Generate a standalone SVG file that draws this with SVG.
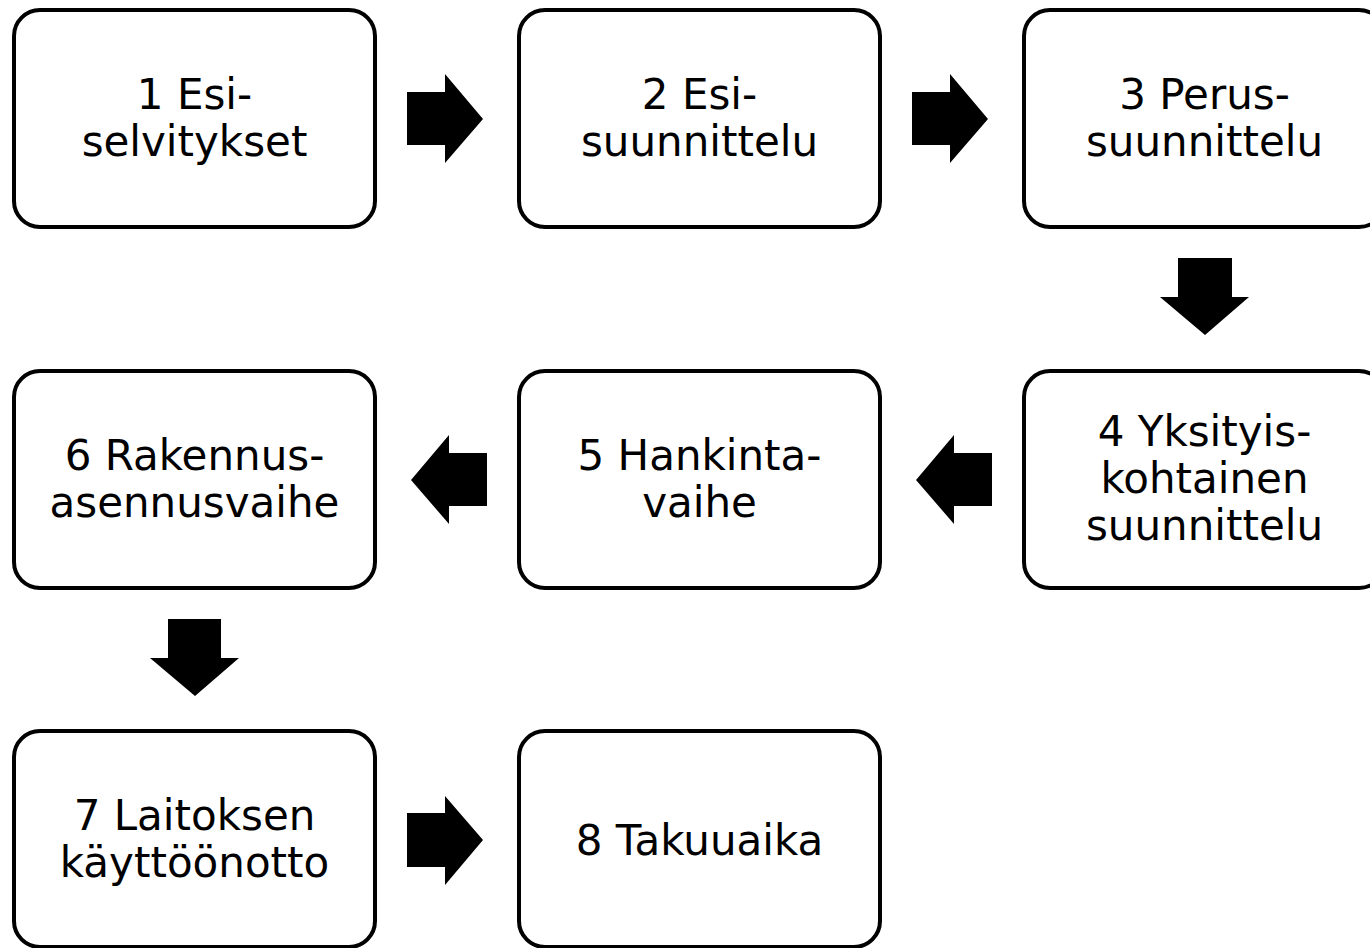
<svg xmlns="http://www.w3.org/2000/svg" width="1370" height="948" viewBox="0 0 1370 948">
<style>
.box{fill:#fff;stroke:#000;stroke-width:4}
.lbl{font-family:"DejaVu Sans","Verdana",sans-serif;font-size:42px;fill:#000;text-anchor:middle}
.arr{fill:#000;stroke:none}
</style>
<rect width="1370" height="948" fill="#fff"/>
<g id="connectors">
<polygon class="arr" points="407,92 445,92 445,74 483,119 445,163 445,145 407,145"/>
<polygon class="arr" points="912,92 950,92 950,74 988,119 950,163 950,145 912,145"/>
<polygon class="arr" points="1178,258 1232,258 1232,297 1249,297 1205,335 1160,297 1178,297"/>
<polygon class="arr" points="992,453 954,453 954,435 916,480 954,524 954,506 992,506"/>
<polygon class="arr" points="487,453 449,453 449,435 411,480 449,524 449,506 487,506"/>
<polygon class="arr" points="168,619 221,619 221,658 239,658 195,696 150,658 168,658"/>
<polygon class="arr" points="407,813 445,813 445,796 483,840 445,885 445,867 407,867"/>
</g>
<g id="n1"><rect class="box" x="14" y="10" width="361" height="217" rx="26"/><text class="lbl" x="194.5" y="109">1 Esi-</text><text class="lbl" x="194.5" y="156">selvitykset</text></g>
<g id="n2"><rect class="box" x="519" y="10" width="361" height="217" rx="26"/><text class="lbl" x="699.5" y="109">2 Esi-</text><text class="lbl" x="699.5" y="156">suunnittelu</text></g>
<g id="n3"><rect class="box" x="1024" y="10" width="361" height="217" rx="26"/><text class="lbl" x="1204.5" y="109">3 Perus-</text><text class="lbl" x="1204.5" y="156">suunnittelu</text></g>
<g id="n4"><rect class="box" x="1024" y="371" width="361" height="217" rx="26"/><text class="lbl" x="1204.5" y="446">4 Yksityis-</text><text class="lbl" x="1204.5" y="493">kohtainen</text><text class="lbl" x="1204.5" y="540">suunnittelu</text></g>
<g id="n5"><rect class="box" x="519" y="371" width="361" height="217" rx="26"/><text class="lbl" x="699.5" y="470">5 Hankinta-</text><text class="lbl" x="699.5" y="517">vaihe</text></g>
<g id="n6"><rect class="box" x="14" y="371" width="361" height="217" rx="26"/><text class="lbl" x="194.5" y="470">6 Rakennus-</text><text class="lbl" x="194.5" y="517">asennusvaihe</text></g>
<g id="n7"><rect class="box" x="14" y="731" width="361" height="216" rx="26"/><text class="lbl" x="194.5" y="830">7 Laitoksen</text><text class="lbl" x="194.5" y="877">käyttöönotto</text></g>
<g id="n8"><rect class="box" x="519" y="731" width="361" height="216" rx="26"/><text class="lbl" x="699.5" y="855">8 Takuuaika</text></g>
</svg>
